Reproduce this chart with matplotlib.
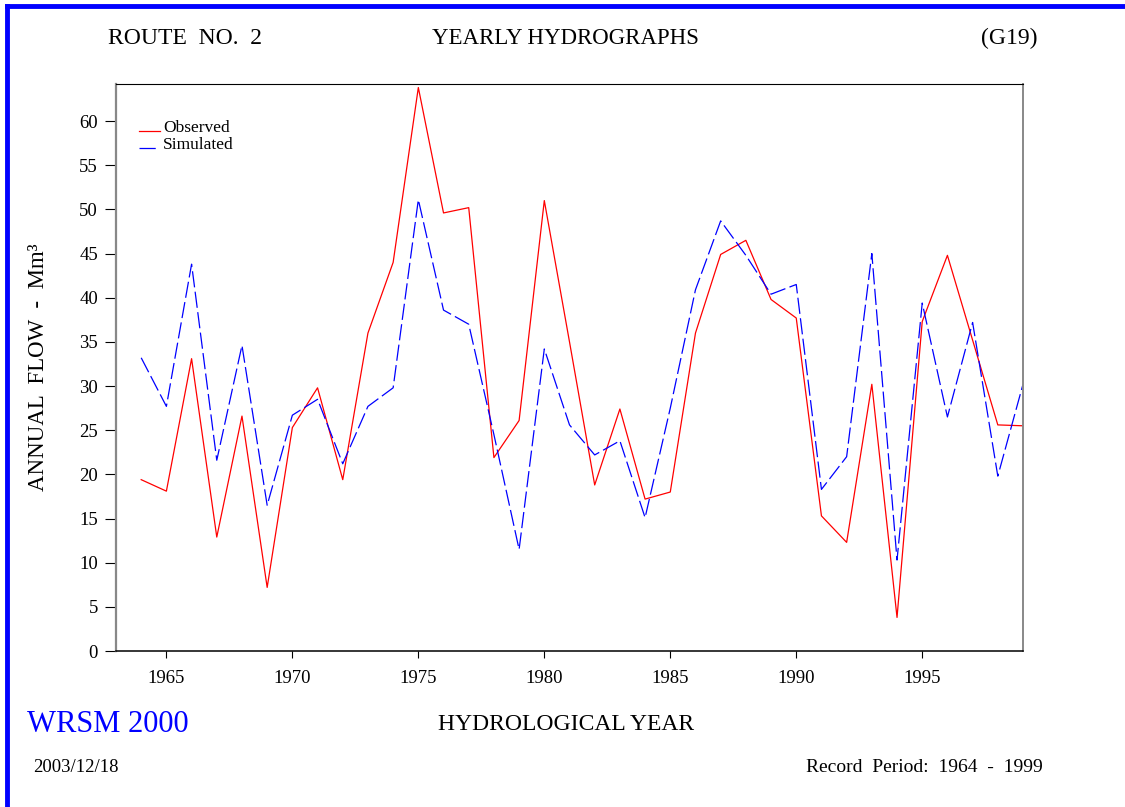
import matplotlib
matplotlib.use("Agg")
import matplotlib.pyplot as plt
from matplotlib.lines import Line2D

years = list(range(1964, 2000))
observed = [19.4, 18.1, 33.1, 12.9, 26.6, 7.2, 25.3, 29.8, 19.4, 36.0,
            44.0, 63.8, 49.6, 50.2, 21.9, 26.1, 51.0, 35.0, 18.8, 27.4,
            17.2, 18.0, 36.0, 44.9, 46.5, 39.8, 37.7, 15.3, 12.3, 30.2,
            3.8, 37.3, 44.8, 35.2, 25.6, 25.5]
simulated = [33.2, 27.7, 43.8, 21.6, 34.6, 16.5, 26.7, 28.5, 21.2, 27.7,
             29.8, 51.1, 38.6, 37.0, 24.5, 11.5, 34.2, 25.6, 22.2, 23.8,
             15.1, 27.5, 40.9, 48.7, 44.8, 40.4, 41.5, 18.3, 22.0, 45.0,
             10.3, 39.4, 26.5, 37.2, 19.8, 30.2]
x_ticks = [1965, 1970, 1975, 1980, 1985, 1990, 1995]
y_ticks = list(range(0, 61, 5))

plt.rcParams["font.family"] = ["Liberation Serif", "DejaVu Serif"]

W, H = 1125, 807
fig = plt.figure(figsize=(W / 100, H / 100), dpi=100)
fig.patch.set_facecolor("white")


def fx(px):
    return px / W


def fy(py):
    return 1 - py / H


# blue frame (only top and left edges show)
fig.add_artist(Line2D([fx(7), 1.0], [fy(6), fy(6)], color="#0000ff", lw=3.5))
fig.add_artist(Line2D([fx(7), fx(7)], [fy(6), 0.0], color="#0000ff", lw=3.5))

AX_L, AX_R, AX_T, AX_B = 116, 1023, 84, 651
ax = fig.add_axes([fx(AX_L), fy(AX_B), fx(AX_R) - fx(AX_L), fy(AX_T) - fy(AX_B)])
red_style = dict(color="#ff0000", lw=0.9)
blue_style = dict(color="#0000ff", lw=0.9, linestyle=(0, (13, 3.5)))
ax.plot(years, observed, **red_style)
ax.plot(years, simulated, **blue_style)

ax.set_xlim(1963, 1999)
ax.set_ylim(0, 64.2)
ax.set_xticks(x_ticks)
ax.set_yticks(y_ticks)
ax.tick_params(axis="y", direction="out", length=8, width=0.8, pad=5, labelsize=13.5)
ax.tick_params(axis="x", direction="out", length=5, width=0.8, pad=9, labelsize=13.5)

ax.spines["left"].set_color("#888888")
ax.spines["left"].set_linewidth(1.6)
ax.spines["right"].set_color("#888888")
ax.spines["right"].set_linewidth(1.4)
ax.spines["top"].set_linewidth(0.8)
ax.spines["bottom"].set_linewidth(1.1)


# legend drawn by hand in axes fractions from pixel positions
def ax_x(px):
    return (px - AX_L) / (AX_R - AX_L)


def ax_y(py):
    return (AX_B - py) / (AX_B - AX_T)


legend_items = [("Observed", red_style, 131, 160), ("Simulated", blue_style, 148, 156)]
for label, style, py, x_end in legend_items:
    ax.add_line(Line2D([ax_x(139), ax_x(x_end)], [ax_y(py), ax_y(py)],
                       transform=ax.transAxes, **style))
    ax.text(ax_x(163), ax_y(py - 3), label, transform=ax.transAxes,
            fontsize=12.5, ha="left", va="center")

ax.set_ylabel("ANNUAL  FLOW  -  Mm³", fontsize=16.5, labelpad=22)

fig.text(fx(108), fy(38), "ROUTE  NO.  2", fontsize=17, ha="left", va="center")
fig.text(fx(565), fy(38), "YEARLY HYDROGRAPHS", fontsize=16.5, ha="center", va="center")
fig.text(fx(1037), fy(38), "(G19)", fontsize=17, ha="right", va="center")

fig.text(fx(27), fy(724), "WRSM 2000", fontsize=22, color="#0000ff",
         ha="left", va="center")
fig.text(fx(566), fy(724), "HYDROLOGICAL YEAR", fontsize=17, ha="center", va="center")
fig.text(fx(33), fy(768), "2003/12/18", fontsize=13.5, ha="left", va="center")
fig.text(fx(1043), fy(768), "Record  Period:  1964  -  1999", fontsize=14,
         ha="right", va="center")

fig.savefig("out.png", dpi=100)
